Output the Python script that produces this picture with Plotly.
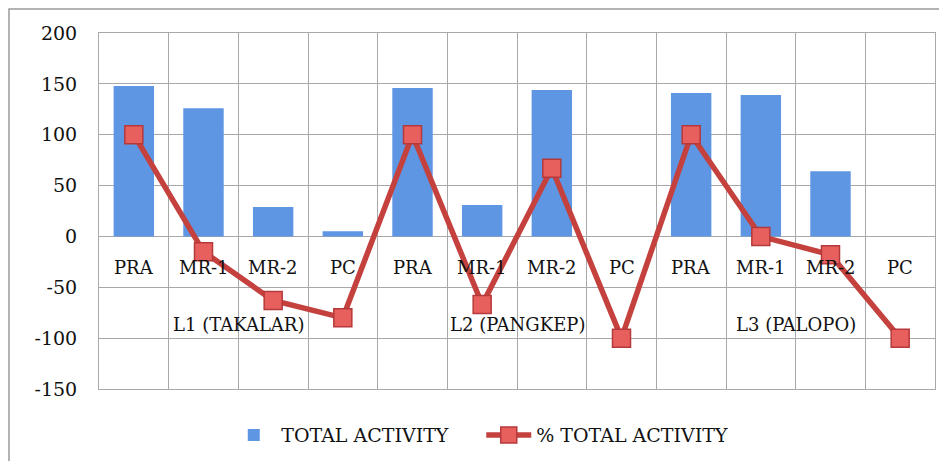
import plotly.graph_objects as go

groups = ["L1 (TAKALAR)", "L2 (PANGKEP)", "L3 (PALOPO)"]
stages = ["PRA", "MR-1", "MR-2", "PC"]
total_activity = [148, 126, 29, 5, 146, 31, 144, 0, 141, 139, 64, 0]
pct_total_activity = [100, -15, -63, -80, 100, -67, 67, -100, 100, 0, -18, -100]
y_ticks = [200, 150, 100, 50, 0, -50, -100, -150]

cat_ids = [f"{g}|{s}" for g in groups for s in stages]
cat_labels = [s for g in groups for s in stages]

FONT = "DejaVu Serif"
# page has an 8px body margin, so the figure is sized to fill the rest
W, H = 939, 453
ML, MR, MT, MB = 91, 12, 25, 72

fig = go.Figure()
fig.add_trace(go.Bar(
    x=cat_ids, y=total_activity, name="TOTAL ACTIVITY",
    width=0.58,
    marker=dict(color="#5e96e3", line=dict(width=0)),
))
fig.add_trace(go.Scatter(
    x=cat_ids, y=pct_total_activity, name="% TOTAL ACTIVITY",
    mode="lines+markers",
    line=dict(color="#c4413e", width=5.5),
    marker=dict(symbol="square", size=18, color="#e8605e",
                line=dict(color="#b5393a", width=1.5)),
))

annotations = []
for cid, lab in zip(cat_ids, cat_labels):
    annotations.append(dict(x=cid, y=-31, xref="x", yref="y", text=lab,
                            showarrow=False, font=dict(family=FONT, size=18, color="#111")))
for gi, g in enumerate(groups):
    xc = gi * 4 + 1.5
    annotations.append(dict(x=xc, y=-87, xref="x", yref="y", text=g,
                            showarrow=False, font=dict(family=FONT, size=18, color="#111")))

pw = W - ML - MR
ph = H - MT - MB
shapes = [dict(type="rect", xref="paper", yref="paper",
               x0=(1 - ML) / pw, x1=(W + 20 - ML) / pw,
               y0=(H - MB - (H + 20)) / ph, y1=(H - MB - 1) / ph,
               line=dict(color="#9a9a9a", width=1.5), fillcolor="rgba(0,0,0,0)",
               layer="below")]

fig.update_layout(
    width=W, height=H,
    margin=dict(l=ML, r=MR, t=MT, b=MB, autoexpand=False),
    paper_bgcolor="white", plot_bgcolor="white",
    font=dict(family=FONT, size=18, color="#111"),
    showlegend=True,
    legend=dict(orientation="h", xref="container", x=0.504, xanchor="center",
                yref="container", y=0.057, yanchor="middle",
                font=dict(family=FONT, size=19, color="#111"),
                itemwidth=45, traceorder="normal", tracegroupgap=0,
                entrywidth=195, entrywidthmode="pixels"),
    annotations=annotations,
    shapes=shapes,
)
fig.update_xaxes(
    type="category", categoryorder="array", categoryarray=cat_ids,
    range=[-0.5, 11.5],
    showticklabels=False, ticks="",
    tickson="boundaries", showgrid=True, gridcolor="#a8a8a8", gridwidth=1,
    showline=True, mirror=True, linecolor="#a8a8a8", linewidth=1,
    zeroline=False,
)
fig.update_yaxes(
    range=[-150, 200], tickvals=y_ticks, ticktext=[str(v) for v in y_ticks],
    showgrid=True, gridcolor="#a8a8a8", gridwidth=1,
    zeroline=False, showline=True, mirror=True, linecolor="#a8a8a8", linewidth=1,
    ticks="", ticklabelstandoff=17,
    tickfont=dict(family=FONT, size=19, color="#111"),
)

fig.write_html("out.html")
